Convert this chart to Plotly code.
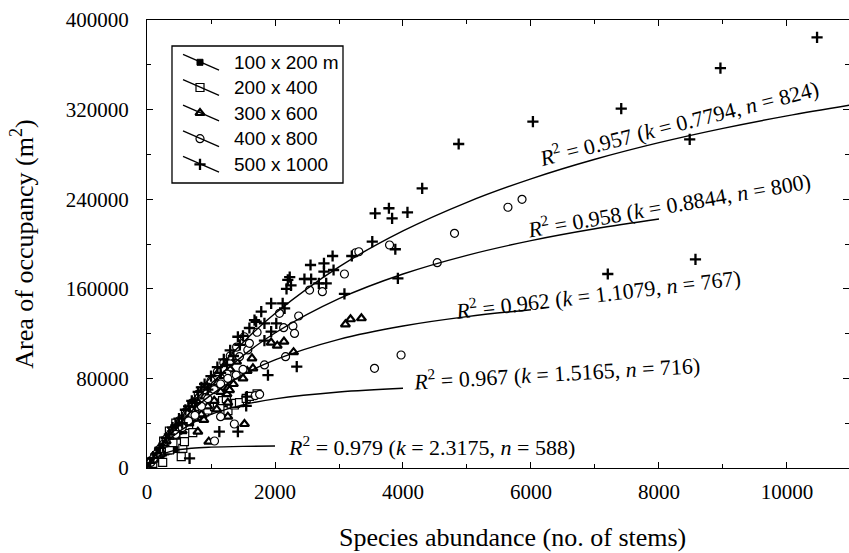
import plotly.graph_objects as go

# ---------------- data ----------------
scales = ["100 x 200 m", "200 x 400", "300 x 600", "400 x 800", "500 x 1000"]

# 100 x 200 m (filled squares)
a_x = [10, 15, 20, 30, 35, 40, 50, 55, 60, 70, 75, 80, 90, 100, 110, 120, 140, 150, 160, 180, 200, 210,
       230, 260, 300, 340, 380, 430]
a_y = [900, 1300, 1800, 2600, 3000, 3400, 4200, 4600, 4900, 5500, 5900, 6200, 6800, 7300, 7900, 8300, 9200,
       9700, 10000, 10800, 11500, 12000, 12400, 13300, 14300, 15100, 15800, 16500]

# 200 x 400 (open squares)
b_x = [40, 70, 90, 120, 150, 180, 200, 245, 250, 260, 300, 350, 350, 380, 405, 420, 450, 450, 480, 535, 535,
       560, 585, 600, 650, 665, 715, 715, 800, 870, 900, 950, 1000, 1055, 1100, 1160, 1180, 1240, 1265,
       1315, 1365, 1385, 1445, 1550, 1600, 1720]
b_y = [3000, 5500, 4200, 9000, 11000, 13500, 15000, 5100, 18000, 24000, 22000, 16100, 33000, 29500, 22600,
       31000, 30000, 40000, 33900, 41300, 10100, 17600, 23500, 44000, 38000, 41300, 47300, 31500, 55000,
       48800, 50000, 51800, 57000, 54800, 58000, 54800, 60200, 62000, 51200, 57100, 56250, 57700, 58300,
       62200, 64000, 66100]

# 300 x 600 (triangles)
c_x = [100, 150, 200, 260, 300, 350, 400, 450, 500, 550, 600, 650, 700, 750, 795, 800, 850, 888, 900, 950,
       965, 1000, 1050, 1090, 1100, 1150, 1200, 1250, 1263, 1263, 1263, 1290, 1300, 1350, 1400, 1500, 1523,
       1565, 1640, 1655, 1940, 2035, 2140, 2290, 3100, 3180, 3350]
c_y = [8000, 12000, 16000, 21000, 24000, 28000, 31000, 28000, 38000, 33000, 45000, 40000, 52000, 44000,
       32400, 58000, 48000, 42900, 64000, 55000, 23500, 70000, 60000, 52400, 76000, 68000, 82000, 66000,
       58300, 45800, 71200, 69600, 88000, 75000, 95000, 80000, 39300, 86600, 97900, 89000, 111900, 109200,
       112800, 103400, 128300, 132800, 133700]

# 400 x 800 (open circles)
d_x = [60, 100, 150, 200, 250, 300, 350, 400, 450, 500, 550, 600, 650, 700, 750, 800, 850, 900, 950, 1000,
       1050, 1055, 1100, 1150, 1150, 1200, 1250, 1263, 1289, 1300, 1365, 1394, 1400, 1445, 1500, 1520, 1575,
       1600, 1690, 1720, 1760, 1835, 2070, 2135, 2165, 2280, 2305, 2370, 2540, 2740, 3085, 3260, 3310, 3555,
       3790, 3970, 4535, 4805, 5640, 5860]
d_y = [5000, 8500, 12500, 17000, 21000, 26000, 29000, 34000, 30000, 42000, 36000, 50000, 42000, 58000,
       47000, 66000, 55000, 70000, 62000, 78000, 70000, 24100, 86000, 75000, 45800, 94000, 84000, 80000,
       93500, 100000, 39300, 83000, 108000, 99400, 88000, 117200, 105400, 111300, 64600, 121200, 65800,
       92000, 138100, 125300, 99400, 126800, 120200, 135700, 158900, 157400, 173200, 192200, 193100, 89000,
       199100, 100900, 183300, 209500, 232800, 239900]

# 500 x 1000 (crosses)
e_x = [50, 100, 150, 200, 250, 300, 350, 400, 450, 500, 550, 600, 650, 665, 700, 750, 800, 850, 900, 950,
       1000, 1100, 1130, 1150, 1200, 1250, 1300, 1350, 1420, 1420, 1450, 1500, 1550, 1560, 1600, 1680, 1705,
       1785, 1835, 1835, 1890, 1940, 1940, 2020, 2120, 2150, 2180, 2200, 2230, 2250, 2340, 2460, 2555, 2565,
       2685, 2765, 2765, 2800, 2900, 2915, 3085, 3200, 3520, 3565, 3780, 3830, 3880, 3920, 4070, 4300, 4870,
       6030, 7200, 7410, 8480, 8570, 8960, 10470]
e_y = [4500, 9000, 13000, 18000, 20000, 27000, 30000, 36000, 38000, 44000, 40000, 52000, 55000, 8600,
       60000, 58000, 68000, 72000, 75000, 70000, 82000, 90000, 32400, 85000, 97000, 92000, 105000, 100000,
       117200, 32400, 110000, 118000, 55400, 63700, 125000, 132100, 130600, 139600, 129200, 113700, 83000,
       147000, 121700, 129200, 147000, 142600, 160000, 167900, 170500, 163000, 90500, 168750, 181250,
       168750, 164900, 182700, 175300, 164900, 189300, 176800, 155400, 189300, 202100, 227400, 231900,
       222900, 195300, 169300, 228200, 249700, 289300, 309200, 173200, 320800, 293500, 186300, 357000, 384500]

# fitted curves
fit_x_a = [0, 50, 100, 200, 400, 700, 1000, 1500, 2000]
fit_y_a = [0, 4228, 7282, 11290, 15270, 17630, 18608, 19295, 19583]
fit_x_b = [0, 50, 100, 200, 400, 700, 1000, 1500, 2000, 3000, 4000]
fit_y_b = [0, 4753, 9054, 16529, 28066, 39906, 47852, 56395, 61734, 67891, 71234]
fit_x_c = [0, 50, 100, 200, 400, 700, 1000, 1500, 2000, 3000, 4000, 5000, 6000]
fit_y_c = [0, 4870, 9498, 18085, 33000, 51021, 65263, 83302, 96622, 114903, 126821, 135178, 141345]
fit_x_d = [0, 50, 100, 200, 400, 700, 1000, 1500, 2000, 3000, 4000, 5000, 6000, 7000, 8000]
fit_y_d = [0, 4918, 9677, 18752, 35309, 56816, 75133, 100307, 120550, 151130, 173190, 189900, 203018,
           213606, 222342]
fit_x_e = [0, 50, 100, 200, 400, 700, 1000, 1500, 2000, 3000, 4000, 5000, 6000, 7000, 8000, 9000, 10000, 11000]
fit_y_e = [0, 4946, 9779, 19130, 36667, 60411, 81538, 112079, 137961, 179563, 211660, 237250, 258180,
           275660, 290495, 303270, 314390, 324180]

fit_labels = [
    "<i>R</i><sup>2</sup> = 0.979 (<i>k</i> = 2.3175, <i>n</i> = 588)",
    "<i>R</i><sup>2</sup> = 0.967 (<i>k</i> = 1.5165, <i>n</i> = 716)",
    "<i>R</i><sup>2</sup> = 0.962 (<i>k</i> = 1.1079, <i>n</i> = 767)",
    "<i>R</i><sup>2</sup> = 0.958 (<i>k</i> = 0.8844, <i>n</i> = 800)",
    "<i>R</i><sup>2</sup> = 0.957 (<i>k</i> = 0.7794, <i>n</i> = 824)",
]
label_x = [4445, 6400, 7040, 8150, 8305]
label_y = [19500, 85500, 156500, 236000, 308500]
label_angle = [0, -3.3, -6.8, -9.9, -14.3]

x_ticks = [0, 2000, 4000, 6000, 8000, 10000]
y_ticks = [0, 80000, 160000, 240000, 320000, 400000]
x_title = "Species abundance (no. of stems)"
y_title = "Area of occupancy (m<sup>2</sup>)"

# ---------------- styles ----------------
marker_styles = [
    dict(symbol="square", size=6, color="black", line=dict(color="black", width=1)),
    dict(symbol="square", size=8, color="white", line=dict(color="black", width=1.2)),
    dict(symbol="triangle-up", size=8, color="white", line=dict(color="black", width=2.2)),
    dict(symbol="circle", size=8, color="white", line=dict(color="black", width=1.2)),
    dict(symbol="cross-thin", size=8, color="black", line=dict(color="black", width=2.3)),
]

fig = go.Figure()
series = [(a_x, a_y), (b_x, b_y), (c_x, c_y), (d_x, d_y), (e_x, e_y)]
for (sx, sy), ms, name in zip(series, marker_styles, scales):
    fig.add_trace(go.Scatter(x=sx, y=sy, mode="markers", marker=ms, name=name, showlegend=False))

fits = [(fit_x_a, fit_y_a), (fit_x_b, fit_y_b), (fit_x_c, fit_y_c), (fit_x_d, fit_y_d), (fit_x_e, fit_y_e)]
for fx, fy in fits:
    fig.add_trace(go.Scatter(x=fx, y=fy, mode="lines", line=dict(color="black", width=1.4, shape="spline"),
                             showlegend=False, hoverinfo="skip"))

for txt, lx, ly, ang in zip(fit_labels, label_x, label_y, label_angle):
    fig.add_annotation(x=lx, y=ly, text=txt, showarrow=False, textangle=ang,
                       xanchor="center", yanchor="middle",
                       font=dict(family="Liberation Serif", size=22, color="black"))

# x-axis title (placed as in the original, slightly right of the axis centre)
fig.add_annotation(xref="paper", yref="paper", x=0.52, y=-0.156, text=x_title, showarrow=False,
                   xanchor="center", yanchor="middle",
                   font=dict(family="Liberation Serif", size=26, color="black"))

# ---------------- custom legend (overlay axes spanning 0..1) ----------------
leg_mx = 0.0755
leg_rows = [0.9056, 0.8493, 0.7924, 0.7350, 0.6779]
leg_x0, leg_x1 = 0.0513, 0.1026
leg_dy = 0.0175
for row, ms, name in zip(leg_rows, marker_styles, scales):
    fig.add_shape(type="line", xref="paper", yref="paper", x0=leg_x0, x1=leg_x1,
                  y0=row + leg_dy, y1=row - leg_dy, line=dict(color="black", width=1.3))
    fig.add_trace(go.Scatter(x=[leg_mx], y=[row], mode="markers", marker=ms, xaxis="x2", yaxis="y2",
                             showlegend=False, hoverinfo="skip"))
    fig.add_annotation(xref="paper", yref="paper", x=0.1211, y=row, text=name, showarrow=False,
                       xanchor="left", yanchor="middle",
                       font=dict(family="Liberation Sans", size=19, color="black"))
fig.add_shape(type="rect", xref="paper", yref="paper", x0=0.0356, x1=0.2792, y0=0.6362, y1=0.942,
              line=dict(color="black", width=1.3), fillcolor="rgba(0,0,0,0)")

axis_common = dict(showline=True, linecolor="black", linewidth=1.3, mirror="ticks", ticks="inside",
                   ticklen=6, tickwidth=1.2, tickcolor="black", showgrid=False, zeroline=False,
                   automargin=False)

fig.update_layout(
    width=849, height=553,
    margin=dict(l=147, r=0, t=20, b=85),
    plot_bgcolor="white", paper_bgcolor="white",
    showlegend=False,
    font=dict(family="Liberation Serif", color="black"),
    xaxis=dict(range=[0, 10969], tickvals=x_ticks, tickformat="d",
               tickfont=dict(family="Liberation Serif", size=21), ticklabelstandoff=5,
               minor=dict(dtick=1000, ticks="inside", ticklen=3.5, tickcolor="black", tickwidth=1),
               **axis_common),
    yaxis=dict(range=[0, 400000], tickvals=y_ticks, tickformat="d",
               tickfont=dict(family="Liberation Serif", size=21), ticklabelstandoff=13,
               minor=dict(dtick=40000, ticks="inside", ticklen=3.5, tickcolor="black", tickwidth=1),
               title=dict(text=y_title, font=dict(family="Liberation Serif", size=26), standoff=24),
               **axis_common),
    xaxis2=dict(overlaying="x", anchor="y2", range=[0, 1], visible=False),
    yaxis2=dict(overlaying="y", anchor="x2", range=[0, 1], visible=False),
)

fig.write_html("out.html", post_script="document.body.style.margin='0';",
               config={"displayModeBar": False})
